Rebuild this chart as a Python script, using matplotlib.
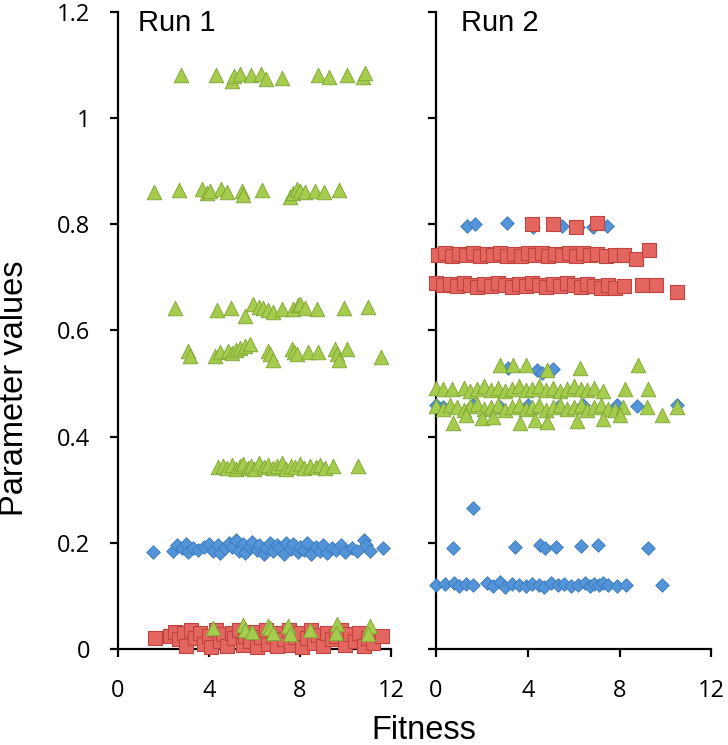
import matplotlib.pyplot as plt

# ---- Run 1 ----
# green triangles
r1_green_x = [2.77, 4.31, 5.0, 5.1, 5.36, 5.85, 6.29, 6.5, 7.21, 8.79, 9.27, 10.07, 10.77, 10.86,
              1.58, 2.68, 3.69, 3.9, 4.04, 4.53, 4.79, 5.45, 5.49, 6.33, 7.56, 7.7, 7.85, 8.0, 8.22, 8.66, 9.05, 9.71,
              2.5, 4.35, 4.97, 5.58, 5.93, 6.2, 6.37, 6.6, 6.81, 7.21, 7.69, 7.9, 8.0, 8.22, 8.75, 9.93, 10.99,
              3.08, 3.15, 4.26, 4.5, 4.84, 5.0, 5.2, 5.36, 5.6, 5.8, 6.59, 6.7, 6.81, 7.65, 7.75, 7.87, 8.35, 8.79,
              9.55, 9.63, 9.7, 10.07, 11.56,
              4.4, 4.6, 4.8, 5.0, 5.2, 5.35, 5.5, 5.7, 5.85, 6.0, 6.2, 6.4, 6.6, 6.8, 7.0, 7.2, 7.4, 7.6, 7.8,
              8.0, 8.2, 8.45, 8.7, 8.9, 9.1, 9.45, 10.55,
              4.18, 5.49, 5.6, 5.89, 6.59, 6.7, 6.81, 7.47, 7.55, 8.44, 9.63, 9.6, 11.08, 11.0]
r1_green_y = [1.081, 1.081, 1.07, 1.08, 1.083, 1.081, 1.083, 1.073, 1.075, 1.081, 1.077, 1.081, 1.078, 1.085,
              0.86, 0.865, 0.866, 0.858, 0.862, 0.866, 0.86, 0.862, 0.855, 0.864, 0.852, 0.858, 0.866, 0.863, 0.86, 0.862, 0.86, 0.864,
              0.642, 0.638, 0.643, 0.628, 0.65, 0.645, 0.642, 0.638, 0.635, 0.64, 0.64, 0.648, 0.65, 0.643, 0.64, 0.642, 0.645,
              0.562, 0.552, 0.552, 0.56, 0.562, 0.558, 0.564, 0.566, 0.57, 0.574, 0.562, 0.555, 0.545, 0.565, 0.56, 0.556, 0.56, 0.56,
              0.565, 0.555, 0.545, 0.565, 0.55,
              0.342, 0.345, 0.34, 0.347, 0.338, 0.344, 0.348, 0.34, 0.345, 0.338, 0.35, 0.342, 0.346, 0.34, 0.344, 0.35, 0.338, 0.345, 0.342,
              0.348, 0.34, 0.345, 0.342, 0.346, 0.34, 0.345, 0.345,
              0.04, 0.045, 0.035, 0.032, 0.043, 0.04, 0.03, 0.044, 0.028, 0.035, 0.047, 0.03, 0.043, 0.028]

# blue diamonds
r1_blue_x = [1.54, 2.4, 2.6, 2.8, 3.0, 3.1, 3.3, 3.5, 3.8, 4.0, 4.2, 4.4, 4.5, 4.7, 4.9, 5.0, 5.2, 5.3,
             5.5, 5.6, 5.8, 5.9, 6.1, 6.2, 6.4, 6.5, 6.7, 6.8, 7.0, 7.1, 7.3, 7.4, 7.6, 7.7, 7.9, 8.0,
             8.2, 8.3, 8.5, 8.7, 8.9, 9.0, 9.2, 9.4, 9.6, 9.8, 10.0, 10.3, 10.5, 10.8, 10.9, 11.1, 11.65]
r1_blue_y = [0.183, 0.185, 0.195, 0.19, 0.198, 0.182, 0.19, 0.186, 0.192, 0.198, 0.185, 0.195, 0.18, 0.19, 0.2, 0.192,
             0.205, 0.185, 0.198, 0.18, 0.192, 0.202, 0.186, 0.195, 0.178, 0.19, 0.2, 0.185, 0.195, 0.19, 0.178, 0.2,
             0.188, 0.198, 0.182, 0.192, 0.186, 0.2, 0.178, 0.192, 0.185, 0.196, 0.18, 0.19, 0.186, 0.195, 0.182,
             0.19, 0.185, 0.205, 0.195, 0.185, 0.19]

# red squares
r1_red_x = [1.63, 2.3, 2.5, 2.7, 2.9, 3.0, 3.2, 3.4, 3.6, 3.8, 4.0, 4.1, 4.3, 4.5, 4.6, 4.8, 5.0, 5.1, 5.3,
            5.5, 5.6, 5.8, 6.0, 6.1, 6.3, 6.5, 6.6, 6.8, 7.0, 7.1, 7.3, 7.5, 7.6, 7.8, 8.0, 8.1, 8.3, 8.5, 8.6,
            8.8, 9.0, 9.2, 9.4, 9.6, 9.8, 10.0, 10.2, 10.4, 10.6, 10.8, 11.0, 11.2, 11.6]
r1_red_y = [0.02, 0.025, 0.032, 0.018, 0.03, 0.005, 0.035, 0.02, 0.03, 0.01, 0.025, 0.003, 0.035, 0.015, 0.028,
            0.005, 0.03, 0.02, 0.036, 0.008, 0.025, 0.015, 0.032, 0.003, 0.022, 0.035, 0.01, 0.025, 0.005, 0.03,
            0.018, 0.036, 0.008, 0.022, 0.03, 0.004, 0.02, 0.035, 0.012, 0.026, 0.006, 0.03, 0.018, 0.025, 0.035,
            0.008, 0.028, 0.015, 0.03, 0.005, 0.02, 0.012, 0.025]

# ---- Run 2 ----
r2_blue_x = [1.35, 1.7, 3.1, 4.24, 5.5, 6.2, 6.86, 7.47,
             3.14, 4.41, 4.63, 5.1,
             0.0, 0.3, 1.62, 2.8, 4.0, 5.33, 6.42, 7.9, 8.78, 10.5,
             1.62,
             0.74, 3.45, 4.54, 4.76, 5.24, 6.33, 7.07, 9.26,
             0.0, 0.4, 0.8, 1.0, 1.3, 1.6, 2.2, 2.5, 2.8, 3.0, 3.3, 3.6, 3.9, 4.2, 4.5, 4.7, 5.0, 5.3,
             5.6, 5.9, 6.2, 6.5, 6.7, 6.9, 7.1, 7.3, 7.5, 7.9, 8.3, 9.87]
r2_blue_y = [0.797, 0.8, 0.802, 0.795, 0.797, 0.794, 0.795, 0.797,
             0.53, 0.525, 0.52, 0.528,
             0.46, 0.455, 0.46, 0.455, 0.46, 0.455, 0.46, 0.46, 0.458, 0.46,
             0.265,
             0.19, 0.192, 0.195, 0.19, 0.192, 0.193, 0.195, 0.19,
             0.12, 0.122, 0.125, 0.118, 0.122, 0.12, 0.124, 0.119, 0.126, 0.117, 0.122, 0.12, 0.118, 0.123, 0.12,
             0.116, 0.124, 0.12, 0.122, 0.118, 0.12, 0.124, 0.119, 0.122, 0.12, 0.124, 0.121, 0.118, 0.12, 0.12]

r2_red_x = [4.19, 5.1, 6.1, 7.0,
            0.1, 0.4, 0.7, 1.0, 1.3, 1.6, 1.9, 2.2, 2.5, 2.8, 3.1, 3.4, 3.7, 4.0, 4.3, 4.6, 4.9, 5.2,
            5.5, 5.8, 6.1, 6.4, 6.7, 7.0, 7.4, 7.8, 8.2, 8.7, 9.3,
            0.0, 0.3, 0.6, 0.9, 1.2, 1.5, 1.8, 2.1, 2.4, 2.7, 3.0, 3.3, 3.6, 3.9, 4.2, 4.5, 4.8, 5.1,
            5.4, 5.7, 6.0, 6.3, 6.6, 6.9, 7.2, 7.5, 7.8, 8.2, 9.0, 9.6, 10.5]
r2_red_y = [0.8, 0.8, 0.795, 0.802,
            0.742, 0.745, 0.74, 0.744, 0.742, 0.746, 0.74, 0.744, 0.742, 0.746, 0.741, 0.744, 0.74, 0.745,
            0.742, 0.746, 0.74, 0.744, 0.742, 0.746, 0.74, 0.745, 0.742, 0.744, 0.74, 0.742, 0.743, 0.735, 0.752,
            0.69, 0.686, 0.688, 0.684, 0.69, 0.686, 0.682, 0.688, 0.684, 0.69, 0.686, 0.682, 0.688, 0.684,
            0.69, 0.686, 0.682, 0.688, 0.684, 0.69, 0.686, 0.682, 0.688, 0.684, 0.68, 0.686, 0.68, 0.684,
            0.685, 0.685, 0.672]

r2_green_x = [2.8, 3.36, 3.9, 4.85, 6.29, 8.82,
              0.0, 0.3, 0.7, 1.2, 1.5, 1.8, 2.1, 2.4, 2.7, 3.0, 3.3, 3.6, 3.9, 4.2, 4.5, 4.8, 5.1, 5.4,
              5.7, 6.0, 6.3, 6.6, 6.9, 7.3, 8.26, 9.26,
              0.0, 0.3, 0.6, 0.9, 1.2, 1.5, 1.8, 2.1, 2.4, 2.7, 3.0, 3.3, 3.6, 3.9, 4.2, 4.5, 4.8, 5.1,
              5.4, 5.7, 6.0, 6.3, 6.6, 6.9, 7.2, 7.5, 7.8, 8.17, 9.2, 10.5,
              0.74, 1.3, 2.0, 2.5, 3.67, 4.3, 4.85, 6.16, 7.29, 8.0, 9.87]
r2_green_y = [0.535, 0.535, 0.535, 0.525, 0.53, 0.535,
              0.492, 0.49, 0.49, 0.492, 0.485, 0.49, 0.495, 0.488, 0.492, 0.485, 0.49, 0.495, 0.488, 0.49,
              0.495, 0.488, 0.492, 0.485, 0.49, 0.495, 0.49, 0.488, 0.492, 0.485, 0.49, 0.49,
              0.458, 0.452, 0.46, 0.455, 0.45, 0.458, 0.462, 0.452, 0.456, 0.46, 0.45, 0.455, 0.46, 0.452,
              0.456, 0.46, 0.45, 0.455, 0.46, 0.452, 0.456, 0.46, 0.45, 0.455, 0.46, 0.452, 0.45, 0.455,
              0.455, 0.455,
              0.425, 0.44, 0.435, 0.437, 0.425, 0.432, 0.427, 0.43, 0.433, 0.44, 0.44]

blue_face, blue_edge = '#5394d8', '#3a78c0'
red_face, red_edge = '#e36660', '#c0443d'
green_face, green_edge = '#a5cc4c', '#7da334'

fig = plt.figure(figsize=(7.28, 7.45), dpi=100)
ax1 = fig.add_axes([0.162, 0.129, 0.375, 0.855])
ax2 = fig.add_axes([0.599, 0.129, 0.378, 0.855])


def draw(ax, bx, by, rx, ry, gx, gy):
    ax.scatter(bx, by, marker='D', s=48, c=blue_face, edgecolors=blue_edge, linewidths=0.6, clip_on=False, zorder=3)
    ax.scatter(rx, ry, marker='s', s=115, c=red_face, edgecolors=red_edge, linewidths=0.8, clip_on=False, zorder=4)
    ax.scatter(gx, gy, marker='^', s=110, c=green_face, edgecolors=green_edge, linewidths=0.6, clip_on=False, zorder=5)


draw(ax1, r1_blue_x, r1_blue_y, r1_red_x, r1_red_y, r1_green_x, r1_green_y)
draw(ax2, r2_blue_x, r2_blue_y, r2_red_x, r2_red_y, r2_green_x, r2_green_y)

for ax in (ax1, ax2):
    ax.set_xlim(0, 12)
    ax.set_ylim(0, 1.2)
    ax.spines['top'].set_visible(False)
    ax.spines['right'].set_visible(False)
    ax.spines['left'].set_linewidth(1.6)
    ax.spines['bottom'].set_linewidth(1.6)
    ax.set_xticks([0, 4, 8, 12])
    ax.set_yticks([0, 0.2, 0.4, 0.6, 0.8, 1.0, 1.2])
    ax.tick_params(direction='out', length=6, width=1.6, labelsize=17)
    ax.tick_params(axis='x', pad=16)
    ax.tick_params(axis='y', pad=14)
    for lab in ax.get_xticklabels():
        lab.set_fontfamily('Open Sans')

ax1.set_yticklabels(['0', '0.2', '0.4', '0.6', '0.8', '1', '1.2'], fontfamily='Open Sans')
ax2.set_yticklabels([])

ax1.text(0.073, 1.005, 'Run 1', transform=ax1.transAxes, fontsize=21, va='top', family='Liberation Sans')
ax2.text(0.09, 1.005, 'Run 2', transform=ax2.transAxes, fontsize=21, va='top', family='Liberation Sans')

fig.text(0.02, 0.479, 'Parameter values', rotation=90, fontsize=23.5, ha='center', va='center', family='Liberation Sans')
fig.text(0.582, 0.008, 'Fitness', fontsize=23.5, ha='center', va='baseline', family='Liberation Sans')

fig.savefig('out.png', dpi=100)
